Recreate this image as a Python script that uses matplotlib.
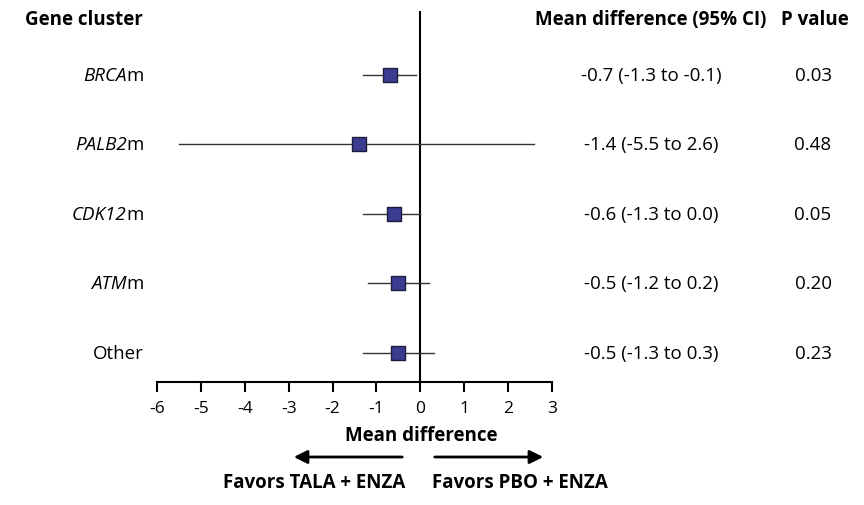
import matplotlib.pyplot as plt
from matplotlib.patches import FancyArrowPatch

plt.rcParams['font.family'] = ['Open Sans', 'DejaVu Sans']

# datos
genes_italic = ["BRCA", "PALB2", "CDK12", "ATM", ""]
genes_plain = ["m", "m", "m", "m", "Other"]
mean_diff = [-0.7, -1.4, -0.6, -0.5, -0.5]
ci_low = [-1.3, -5.5, -1.3, -1.2, -1.3]
ci_high = [-0.1, 2.6, 0.0, 0.2, 0.3]
ci_text = ["-0.7 (-1.3 to -0.1)", "-1.4 (-5.5 to 2.6)", "-0.6 (-1.3 to 0.0)",
           "-0.5 (-1.2 to 0.2)", "-0.5 (-1.3 to 0.3)"]
p_values = ["0.03", "0.48", "0.05", "0.20", "0.23"]
x_ticks = [-6, -5, -4, -3, -2, -1, 0, 1, 2, 3]

FS = 13.5
W, H = 864, 506
fig = plt.figure(figsize=(W / 100, H / 100), dpi=100)
ax = fig.add_axes([157 / W, 1 - 383 / H, (552 - 157) / W, (383 - 12) / H])

filas = list(range(len(mean_diff)))
for y, lo, hi in zip(filas, ci_low, ci_high):
    ax.plot([lo, hi], [y, y], color='#333333', lw=1.0, zorder=2)
ax.scatter(mean_diff, filas, marker='s', s=100, color='#3b3b8f',
           edgecolor='#1c1c40', linewidth=1.0, zorder=3)

ax.axvline(0, color='black', lw=1.5, zorder=1)
ax.set_xlim(-6, 3)
ax.set_ylim(4.42, -0.92)
ax.set_xticks(x_ticks)
ax.set_xticklabels([str(t) for t in x_ticks], fontsize=12.5)
ax.set_yticks([])
for s in ['top', 'right', 'left']:
    ax.spines[s].set_visible(False)
ax.spines['bottom'].set_linewidth(1.5)
ax.tick_params(axis='x', direction='out', length=7, width=1.5, pad=6)

# x en pixeles -> coordenadas de ejes
trans = ax.get_yaxis_transform()
px = lambda x: (x - 157) / (552 - 157)

# etiquetas de genes (parte en cursiva + parte normal)
for y, it, pl in zip(filas, genes_italic, genes_plain):
    t = ax.text(px(144), y, pl, transform=trans, fontsize=FS, ha='right', va='center')
    if it:
        ax.annotate(it, xy=(0, 0.5), xycoords=t, ha='right', va='center',
                    fontsize=FS, style='italic')

# columnas de texto a la derecha
for y, c, p in zip(filas, ci_text, p_values):
    ax.text(px(651), y, c, transform=trans, fontsize=FS, ha='center', va='center')
    ax.text(px(813), y, p, transform=trans, fontsize=FS, ha='center', va='center')

fig.text(25 / W, 1 - 20 / H, "Gene cluster", fontsize=FS, fontweight='bold',
         ha='left', va='center')
fig.text(651 / W, 1 - 20 / H, "Mean difference (95% CI)", fontsize=FS,
         fontweight='bold', ha='center', va='center')
fig.text(815 / W, 1 - 20 / H, "P value", fontsize=FS, fontweight='bold',
         ha='center', va='center')
fig.text(421 / W, 1 - 436 / H, "Mean difference", fontsize=FS,
         fontweight='bold', ha='center', va='center')

# flechas de "favors"
for x0, x1 in [(405, 291), (432, 546)]:
    fig.patches.append(FancyArrowPatch(
        (x0 / W, 1 - 458 / H), (x1 / W, 1 - 458 / H), transform=fig.transFigure,
        arrowstyle='-|>,head_length=8,head_width=4', color='black', lw=2))
fig.text(405 / W, 1 - 483 / H, "Favors TALA + ENZA", fontsize=FS,
         fontweight='bold', ha='right', va='center')
fig.text(432 / W, 1 - 483 / H, "Favors PBO + ENZA", fontsize=FS,
         fontweight='bold', ha='left', va='center')

fig.savefig("out.png", dpi=100)
